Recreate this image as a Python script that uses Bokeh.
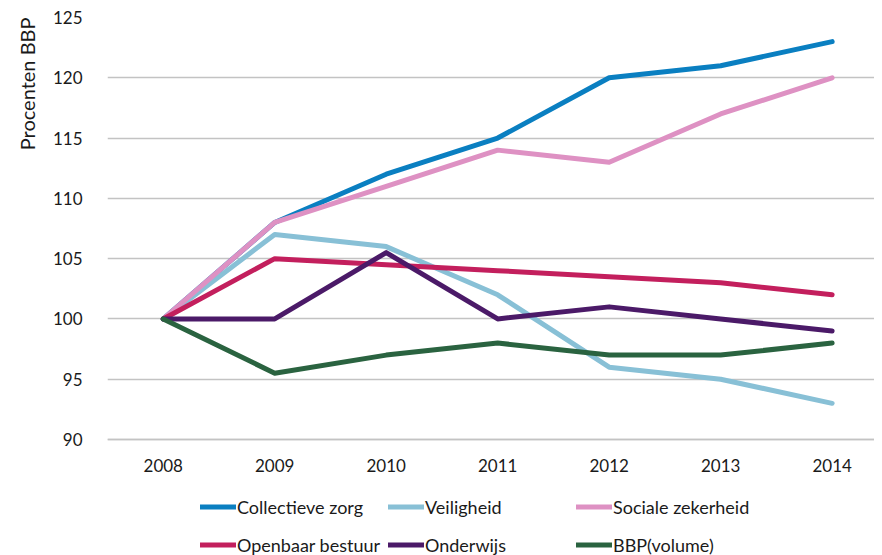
from bokeh.plotting import figure
from bokeh.models import Range1d, Legend, LegendItem, Title, FixedTicker
from bokeh.embed import file_html
from bokeh.resources import INLINE

years = [2008, 2009, 2010, 2011, 2012, 2013, 2014]
collectieve_zorg = [100, 108, 112, 115, 120, 121, 123]
veiligheid = [100, 107, 106, 102, 96, 95, 93]
sociale_zekerheid = [100, 108, 111, 114, 113, 117, 120]
openbaar_bestuur = [100, 105, 104.5, 104, 103.5, 103, 102]
onderwijs = [100, 100, 105.5, 100, 101, 100, 99]
bbp_volume = [100, 95.5, 97, 98, 97, 97, 98]
y_ticks = [90, 95, 100, 105, 110, 115, 120, 125]

series_names = ["Collectieve zorg", "Veiligheid", "Sociale zekerheid",
                "Openbaar bestuur", "Onderwijs", "BBP(volume)"]
series_values = [collectieve_zorg, veiligheid, sociale_zekerheid,
                 openbaar_bestuur, onderwijs, bbp_volume]
series_colors = ["#0a7fc1", "#88c0d6", "#de91c3", "#c31f5d", "#4b1a68", "#2a6340"]

FONT = "Lato"
GRID = "#c3c3c3"

# frame spans from y=17 to the bottom of the canvas (555); 90 sits at y=439
Y_TOP = 125
Y_AXIS = 90
Y_BOTTOM = Y_AXIS - (555 - 439) * (Y_TOP - Y_AXIS) / (439 - 17)

p = figure(width=874, height=555, output_backend="svg", toolbar_location=None,
           x_range=Range1d(2007.5, 2014.38), y_range=Range1d(Y_BOTTOM, Y_TOP),
           min_border_left=107, min_border_right=0, min_border_top=17,
           min_border_bottom=0, background_fill_color="white",
           border_fill_color="white", outline_line_color=None)

renderers = []
for name, vals, col in zip(series_names, series_values, series_colors):
    r = p.line(years, vals, line_color=col, line_width=5,
               line_cap="round", line_join="round")
    renderers.append(r)

p.xgrid.visible = False
p.ygrid.ticker = FixedTicker(ticks=y_ticks)
p.ygrid.grid_line_color = GRID
p.ygrid.grid_line_width = 1.6

p.yaxis.ticker = FixedTicker(ticks=y_ticks)
p.yaxis.axis_line_color = None
p.yaxis.major_tick_line_color = None
p.yaxis.minor_tick_line_color = None
p.yaxis.major_label_standoff = 19
p.yaxis.major_label_text_font = FONT
p.yaxis.major_label_text_font_size = "17px"
p.yaxis.major_label_text_color = "#1a1a1a"

p.xaxis.fixed_location = Y_AXIS
p.xaxis.ticker = FixedTicker(ticks=years)
p.xaxis.axis_line_color = GRID
p.xaxis.axis_line_width = 1.6
p.xaxis.major_tick_line_color = None
p.xaxis.minor_tick_line_color = None
p.xaxis.major_label_standoff = 13
p.xaxis.major_label_text_font = FONT
p.xaxis.major_label_text_font_size = "17px"
p.xaxis.major_label_text_color = "#1a1a1a"

p.add_layout(Title(text="Procenten BBP", align="right", text_font=FONT,
                   text_font_size="20px", text_font_style="normal",
                   text_color="#1a1a1a", standoff=22), "left")

items = [LegendItem(label=n, renderers=[r]) for n, r in zip(series_names, renderers)]
legend = Legend(items=items, orientation="horizontal", ncols=3,
                location=(93, -6), glyph_width=36, glyph_height=33,
                label_height=33, label_width=146, label_standoff=1, spacing=5,
                padding=0, margin=0, border_line_color=None,
                background_fill_alpha=0, label_text_font=FONT,
                label_text_font_size="18px", label_text_color="#1a1a1a")
p.add_layout(legend, "center")

open("out.html", "w").write(file_html(p, INLINE))
